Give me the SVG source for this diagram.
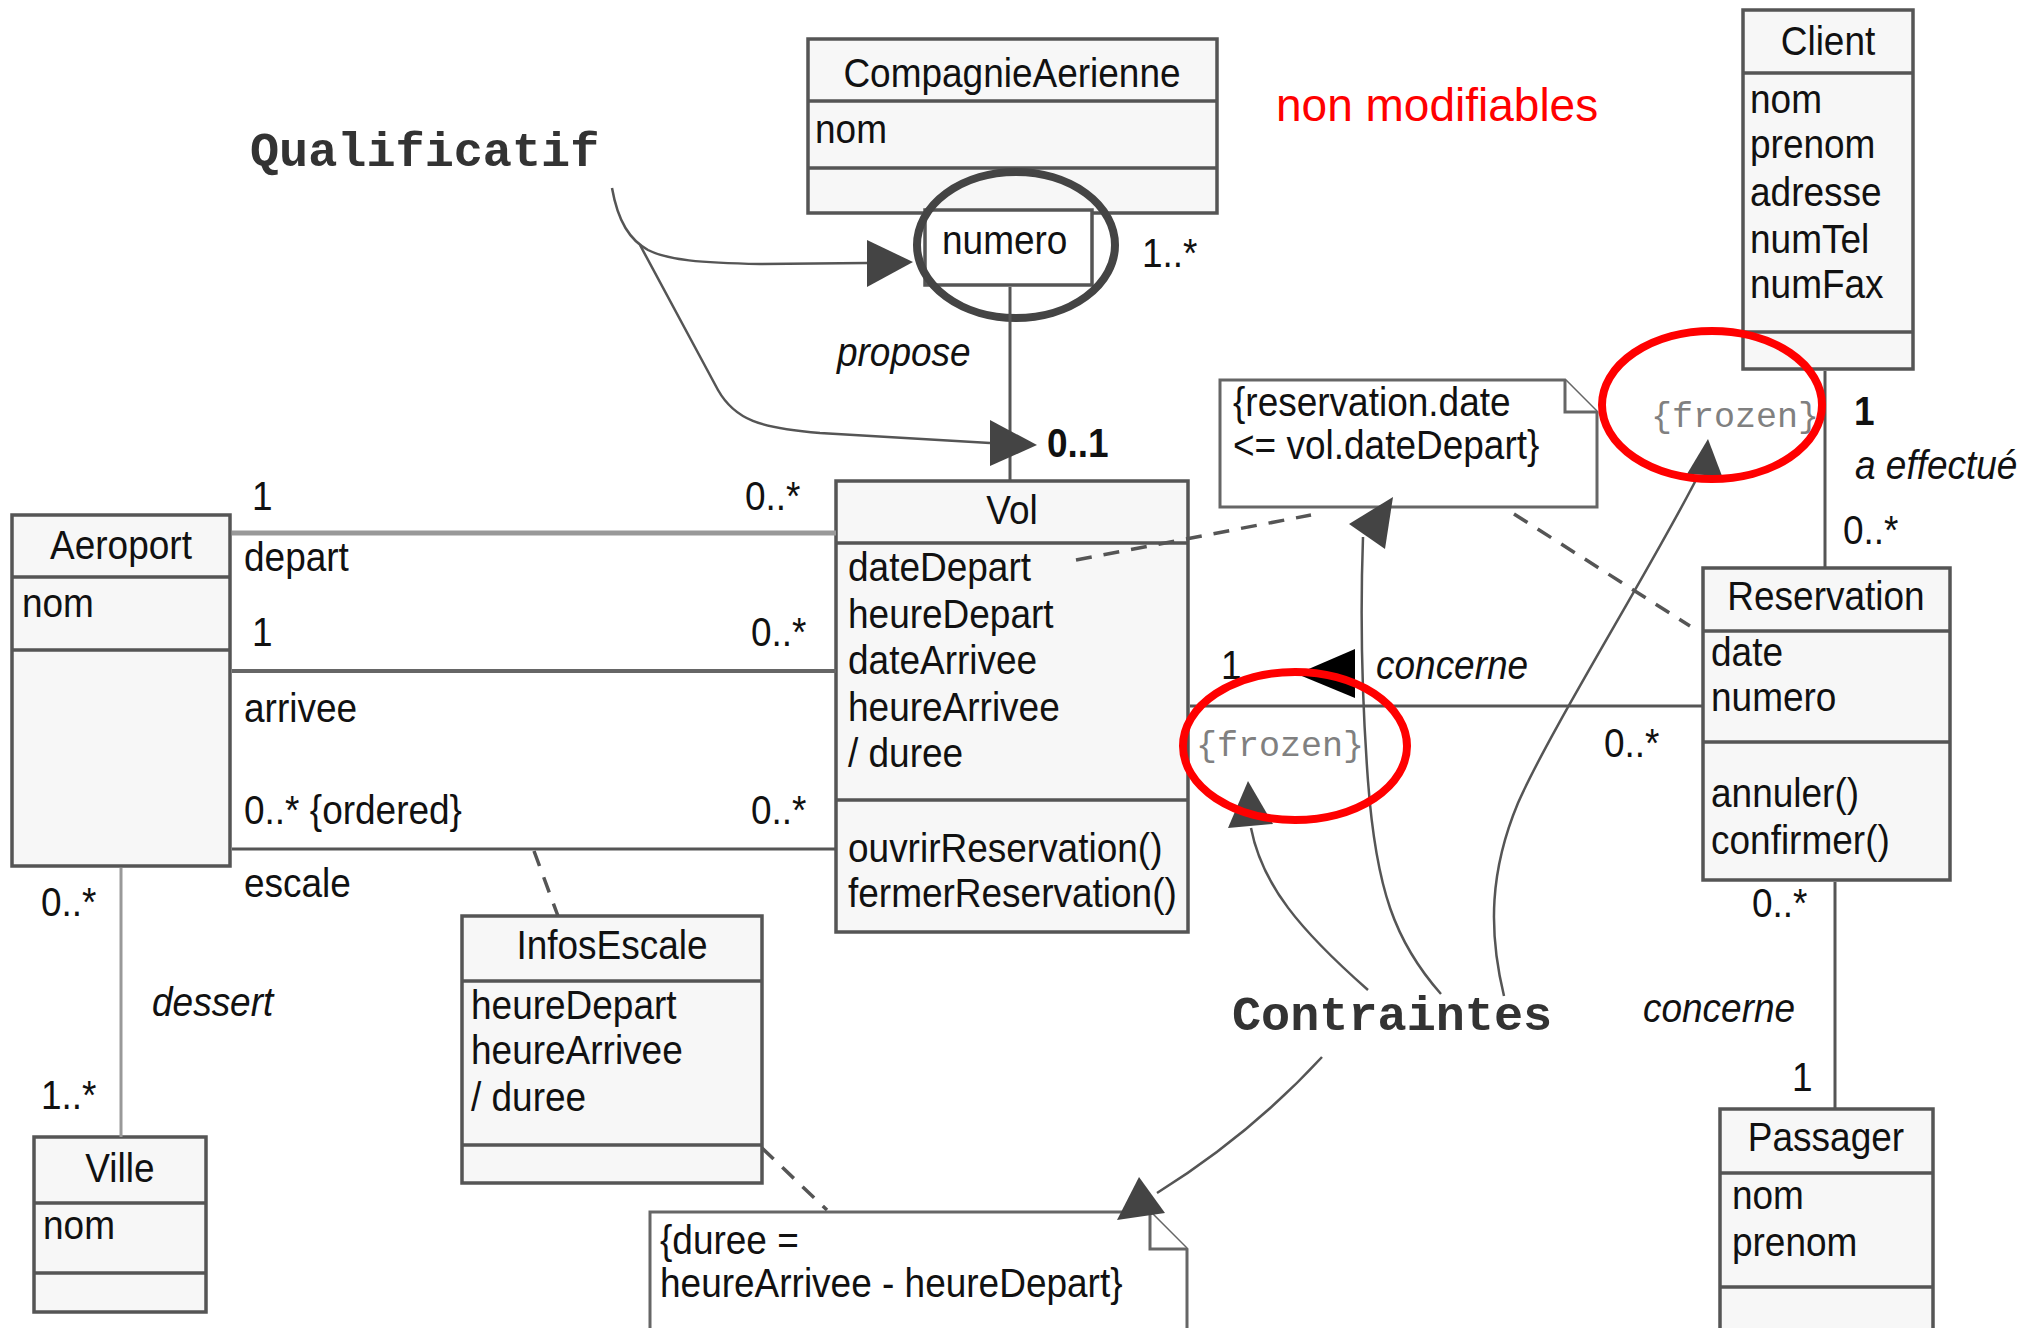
<svg xmlns="http://www.w3.org/2000/svg" width="2024" height="1328" viewBox="0 0 2024 1328">
  <style>
    .box { fill:#f7f7f7; stroke:#555; stroke-width:3.5 }
    .sep { stroke:#555; stroke-width:3.5 }
    .t { font-family:"Liberation Sans", Arial, sans-serif; font-size:37px; fill:#111;
         transform-box:fill-box; transform-origin:0 100%; transform:scaleY(1.12) }
    .c { text-anchor:middle }
    .i { font-style:italic }
    .b { font-weight:bold }
    .mono { font-family:"Liberation Mono", "Courier New", monospace; font-weight:bold; font-size:48.5px; fill:#333 }
    .fz { font-family:"Liberation Mono", "Courier New", monospace; font-size:35px; fill:#808080 }
    .line { stroke:#555; stroke-width:3; fill:none }
    .dash { stroke:#555; stroke-width:3.5; stroke-dasharray:16 12; fill:none }
    .curve { stroke:#555; stroke-width:2.5; fill:none }
    .head { fill:#444 }
    .red { fill:none; stroke:#f00; stroke-width:8 }
    .note { fill:#fff; stroke:#666; stroke-width:3 }
  </style>

  <rect width="2024" height="1328" fill="#fff"/>

  <g id="CompagnieAerienne">
    <rect class="box" x="808" y="39" width="409" height="174"/>
    <line class="sep" x1="808" y1="101" x2="1217" y2="101"/>
    <line class="sep" x1="808" y1="168" x2="1217" y2="168"/>
    <text class="t c" x="1012" y="88">CompagnieAerienne</text>
    <text class="t" x="815" y="144">nom</text>
  </g>

  <g id="qualifier">
    <rect x="925" y="210" width="167" height="75" fill="#fff" stroke="#555" stroke-width="3.5"/>
    <text class="t" x="942" y="255">numero</text>
    <ellipse cx="1016" cy="245" rx="99" ry="73" fill="none" stroke="#444" stroke-width="8"/>
  </g>

  <g id="Vol">
    <rect class="box" x="836" y="481" width="352" height="451"/>
    <line class="sep" x1="836" y1="543" x2="1188" y2="543"/>
    <line class="sep" x1="836" y1="800" x2="1188" y2="800"/>
    <text class="t c" x="1012" y="525">Vol</text>
    <text class="t" x="848" y="582">dateDepart</text>
    <text class="t" x="848" y="629">heureDepart</text>
    <text class="t" x="848" y="675">dateArrivee</text>
    <text class="t" x="848" y="722">heureArrivee</text>
    <text class="t" x="848" y="768">/ duree</text>
    <text class="t" x="848" y="863">ouvrirReservation()</text>
    <text class="t" x="848" y="908">fermerReservation()</text>
  </g>

  <g id="Aeroport">
    <rect class="box" x="12" y="515" width="218" height="351"/>
    <line class="sep" x1="12" y1="577" x2="230" y2="577"/>
    <line class="sep" x1="12" y1="650" x2="230" y2="650"/>
    <text class="t c" x="121" y="560">Aeroport</text>
    <text class="t" x="22" y="618">nom</text>
  </g>

  <g id="Ville">
    <rect class="box" x="34" y="1137" width="172" height="175"/>
    <line class="sep" x1="34" y1="1203" x2="206" y2="1203"/>
    <line class="sep" x1="34" y1="1273" x2="206" y2="1273"/>
    <text class="t c" x="120" y="1183">Ville</text>
    <text class="t" x="43" y="1240">nom</text>
  </g>

  <g id="InfosEscale">
    <rect class="box" x="462" y="916" width="300" height="267"/>
    <line class="sep" x1="462" y1="981" x2="762" y2="981"/>
    <line class="sep" x1="462" y1="1145" x2="762" y2="1145"/>
    <text class="t c" x="612" y="960">InfosEscale</text>
    <text class="t" x="471" y="1020">heureDepart</text>
    <text class="t" x="471" y="1065">heureArrivee</text>
    <text class="t" x="471" y="1112">/ duree</text>
  </g>

  <g id="Client">
    <rect class="box" x="1743" y="10" width="170" height="359"/>
    <line class="sep" x1="1743" y1="73" x2="1913" y2="73"/>
    <line class="sep" x1="1743" y1="332" x2="1913" y2="332"/>
    <text class="t c" x="1828" y="56">Client</text>
    <text class="t" x="1750" y="114">nom</text>
    <text class="t" x="1750" y="159">prenom</text>
    <text class="t" x="1750" y="207">adresse</text>
    <text class="t" x="1750" y="254">numTel</text>
    <text class="t" x="1750" y="299">numFax</text>
  </g>

  <g id="Reservation">
    <rect class="box" x="1703" y="568" width="247" height="312"/>
    <line class="sep" x1="1703" y1="631" x2="1950" y2="631"/>
    <line class="sep" x1="1703" y1="742" x2="1950" y2="742"/>
    <text class="t c" x="1826" y="611">Reservation</text>
    <text class="t" x="1711" y="667">date</text>
    <text class="t" x="1711" y="712">numero</text>
    <text class="t" x="1711" y="808">annuler()</text>
    <text class="t" x="1711" y="855">confirmer()</text>
  </g>

  <g id="Passager">
    <rect class="box" x="1720" y="1109" width="213" height="240"/>
    <line class="sep" x1="1720" y1="1173" x2="1933" y2="1173"/>
    <line class="sep" x1="1720" y1="1287" x2="1933" y2="1287"/>
    <text class="t c" x="1826" y="1152">Passager</text>
    <text class="t" x="1732" y="1210">nom</text>
    <text class="t" x="1732" y="1257">prenom</text>
  </g>

  <g id="note-date">
    <path class="note" d="M1220,380 H1565 L1597,412 V507 H1220 Z"/>
    <path class="note" d="M1565,380 V412 H1597"/>
    <text class="t" x="1233" y="417">{reservation.date</text>
    <text class="t" x="1233" y="460">&lt;= vol.dateDepart}</text>
  </g>

  <g id="note-duree">
    <path class="note" d="M650,1212 H1150 L1187,1249 V1340 H650 Z"/>
    <path class="note" d="M1150,1212 V1249 H1187"/>
    <text class="t" x="660" y="1255">{duree =</text>
    <text class="t" x="660" y="1298">heureArrivee - heureDepart}</text>
  </g>

  <!-- associations and dependencies -->
  <g id="connectors">
    <path class="line" d="M1010,287 V481"/>
    <path d="M232,533 H836" stroke="#999" stroke-width="5" fill="none"/>
    <path d="M232,671 H836" stroke="#666" stroke-width="4" fill="none"/>
    <path class="line" d="M232,849 H836"/>
    <path d="M121,868 V1137" stroke="#999" stroke-width="3" fill="none"/>
    <path class="line" d="M1190,706 H1703"/>
    <path class="line" d="M1825,371 V568"/>
    <path class="line" d="M1835,882 V1109"/>
    <path class="dash" d="M534,851 L558,916"/>
    <path class="dash" d="M762,1148 L827,1210"/>
    <path class="dash" d="M1076,560 L1311,515"/>
    <path class="dash" d="M1514,514 L1690,626"/>
    <polygon points="1297,674 1355,649 1355,698" fill="#000"/>

    <!-- association labels -->
    <text class="t" x="252" y="511">1</text>
    <text class="t" x="745" y="511">0..*</text>
    <text class="t" x="244" y="572">depart</text>
    <text class="t" x="252" y="647">1</text>
    <text class="t" x="751" y="647">0..*</text>
    <text class="t" x="244" y="723">arrivee</text>
    <text class="t" x="244" y="825">0..* {ordered}</text>
    <text class="t" x="751" y="825">0..*</text>
    <text class="t" x="244" y="898">escale</text>
    <text class="t" x="41" y="917">0..*</text>
    <text class="t i" x="152" y="1017">dessert</text>
    <text class="t" x="41" y="1110">1..*</text>
    <text class="t i" x="837" y="367">propose</text>
    <text class="t" x="1142" y="268">1..*</text>
    <text class="t b" x="1047" y="458">0..1</text>
    <text class="t" x="1221" y="680">1</text>
    <text class="t i" x="1376" y="680">concerne</text>
    <text class="t" x="1604" y="758">0..*</text>
    <text class="t b" x="1854" y="426">1</text>
    <text class="t i" x="1855" y="480">a effectué</text>
    <text class="t" x="1843" y="545">0..*</text>
    <text class="t" x="1752" y="918">0..*</text>
    <text class="t i" x="1643" y="1023">concerne</text>
    <text class="t" x="1792" y="1092">1</text>
  </g>

  <!-- callouts -->
  <g id="callout-qualificatif">
    <text class="mono" x="250" y="166">Qualificatif</text>
    <path class="curve" d="M612,188 C618,222 630,240 648,250 C668,260 700,263 760,264 L867,263"/>
    <path class="curve" d="M640,245 L718,390 C735,420 760,428 820,433 L990,443"/>
    <polygon class="head" points="867,240 913,262 867,287"/>
    <polygon class="head" points="990,420 1037,445 990,466"/>
  </g>

  <g id="callout-contraintes">
    <text class="mono" x="1232" y="1030">Contraintes</text>
    <path class="curve" d="M1368,990 C1300,930 1262,885 1251,828"/>
    <path class="curve" d="M1441,994 C1395,942 1376,889 1368,781 C1362,700 1360,620 1363,537"/>
    <path class="curve" d="M1504,996 C1488,930 1490,870 1518,803 C1550,730 1650,570 1698,476"/>
    <path class="curve" d="M1322,1057 Q1250,1135 1157,1193"/>
    <polygon class="head" points="1248,781 1228,828 1273,824"/>
    <polygon class="head" points="1393,497 1349,524 1385,549"/>
    <polygon class="head" points="1708,439 1687,474 1722,476"/>
    <polygon class="head" points="1139,1177 1117,1220 1165,1213"/>
  </g>

  <g id="frozen-marks">
    <text class="fz" x="1651" y="427">{frozen}</text>
    <text class="fz" x="1196" y="756">{frozen}</text>
    <ellipse class="red" cx="1712" cy="405" rx="110" ry="74"/>
    <ellipse class="red" cx="1295" cy="746" rx="112" ry="74"/>
    <text x="1276" y="121" font-family="Liberation Sans, Arial, sans-serif" font-size="46" fill="#f00">non modifiables</text>
  </g>
</svg>
